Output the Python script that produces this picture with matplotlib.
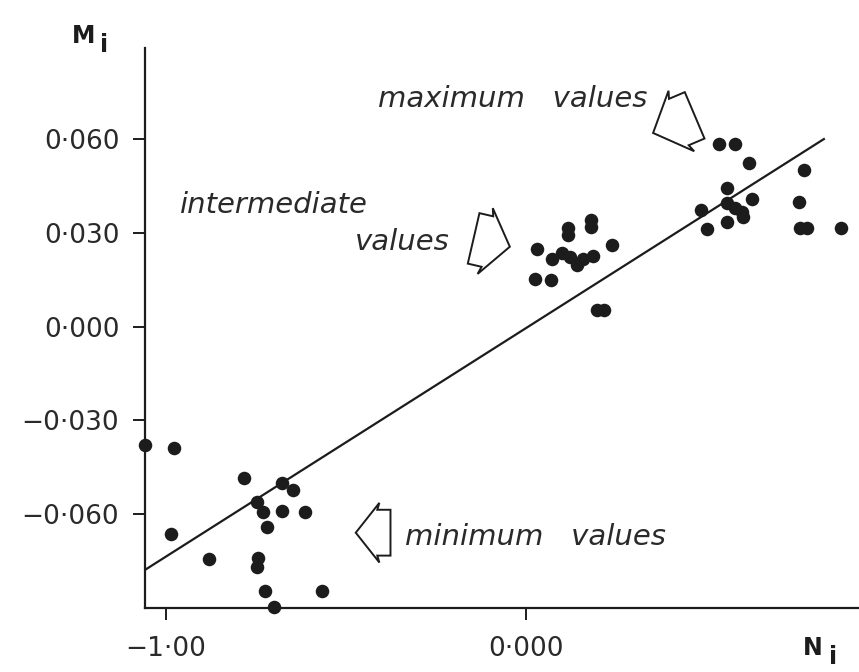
import numpy as np
import matplotlib
matplotlib.use("Agg")
import matplotlib.pyplot as plt
from matplotlib.patches import Polygon
from matplotlib.transforms import Affine2D, ScaledTranslation

# site scores (N_i, M_i) for the three groups
min_n = [-1.057, -0.976, -0.782, -0.678, -0.646, -0.746, -0.729, -0.678, -0.613,
         -0.719, -0.985, -0.879, -0.743, -0.746, -0.724, -0.567, -0.699]
min_m = [-0.0378, -0.0387, -0.0483, -0.0501, -0.0522, -0.0560, -0.0592, -0.0589, -0.0592,
         -0.0642, -0.0663, -0.0742, -0.0739, -0.0768, -0.0845, -0.0845, -0.0896]

mid_n = [0.032, 0.117, 0.117, 0.181, 0.181, 0.241, 0.072, 0.100, 0.123, 0.143,
         0.158, 0.186, 0.026, 0.069, 0.198, 0.218]
mid_m = [0.0248, 0.0316, 0.0294, 0.0342, 0.0318, 0.0262, 0.0216, 0.0237, 0.0222, 0.0198,
         0.0216, 0.0227, 0.0152, 0.0150, 0.0054, 0.0054]

max_n = [0.538, 0.581, 0.621, 0.774, 0.560, 0.628, 0.487, 0.558, 0.581, 0.600,
         0.604, 0.560, 0.504, 0.760, 0.762, 0.781, 0.876]
max_m = [0.0585, 0.0585, 0.0523, 0.0502, 0.0443, 0.0409, 0.0374, 0.0395, 0.0379, 0.0368,
         0.0350, 0.0336, 0.0312, 0.0400, 0.0317, 0.0317, 0.0317]

# least squares line
fit_slope = 0.0731
fit_intercept = -0.0005
fit_range = [-1.057, 0.831]

x_ticks = [-1.0, 0.0]
x_tick_labels = ['\u22121\u00b700', '0\u00b7000']
y_ticks = [-0.06, -0.03, 0.0, 0.03, 0.06]
y_tick_labels = ['\u22120\u00b7060', '\u22120\u00b7030', '0\u00b7000', '0\u00b7030', '0\u00b7060']

INK = '#1c1c1c'

# outline of a hollow block arrow, in points, pointing along +x with the tip at 0,0
ARROW = [(0, 0), (-17, 21.5), (-15.5, 16.5), (-25, 16.5),
         (-25, -16.5), (-15.5, -16.5), (-17, -21.5)]


def block_arrow(ax, tip, angle, sx=1.0, sy=1.0):
    shape = np.array(ARROW) * [sx, sy]
    trans = (Affine2D().rotate_deg(angle).scale(1 / 72)
             + ax.figure.dpi_scale_trans
             + ScaledTranslation(tip[0], tip[1], ax.transData))
    ax.add_patch(Polygon(shape, closed=True, fill=False, edgecolor=INK, lw=1.4,
                         joinstyle='miter', transform=trans, clip_on=False))


fig = plt.figure(figsize=(8.59, 6.72), dpi=100)
ax = fig.add_axes([0.1688, 0.0957, 0.8312, 0.8329])

all_n = min_n + mid_n + max_n
all_m = min_m + mid_m + max_m
ax.scatter(all_n, all_m, s=95, color=INK, linewidths=0, clip_on=False, zorder=3)

xs = np.array(fit_range)
ax.plot(xs, fit_intercept + fit_slope * xs, color=INK, lw=1.6, solid_capstyle='butt')

ax.set_xlim(-1.0575, 0.926)
ax.set_ylim(-0.0899, 0.0892)

ax.set_xticks(x_ticks)
ax.set_xticklabels(x_tick_labels)
ax.set_yticks(y_ticks)
ax.set_yticklabels(y_tick_labels)

for side in ['top', 'right']:
    ax.spines[side].set_visible(False)
for side in ['left', 'bottom']:
    ax.spines[side].set_linewidth(1.6)
    ax.spines[side].set_color(INK)

ax.tick_params(length=8.5, width=1.4, color=INK, labelsize=19, labelcolor='#2a2a2a')
ax.tick_params(axis='y', pad=10)
ax.tick_params(axis='x', pad=12)

# axis names
fig.text(72 / 859, 1 - 43 / 672, 'M', fontsize=17, fontweight='bold', color=INK)
fig.text(100 / 859, 1 - 52 / 672, 'i', fontsize=17, fontweight='bold', color=INK)
fig.text(803 / 859, 1 - 655 / 672, 'N', fontsize=17, fontweight='bold', color=INK)
fig.text(829 / 859, 1 - 664 / 672, 'i', fontsize=17, fontweight='bold', color=INK)

# group labels with their arrows
txt = dict(fontsize=21, style='italic', color='#2a2a2a', va='baseline')
ax.text(-0.410, 0.0703, 'maximum   values', **txt)
ax.text(-0.960, 0.0364, 'intermediate', **txt)
ax.text(-0.474, 0.0246, 'values', **txt)
ax.text(-0.335, -0.0698, 'minimum   values', **txt)

block_arrow(ax, (-0.472, -0.0659), 180)
block_arrow(ax, (-0.044, 0.0256), -13, 1.07, 1.13)
block_arrow(ax, (0.354, 0.0620), 203, 1.3, 1.1)

fig.savefig('out.png', dpi=100)
